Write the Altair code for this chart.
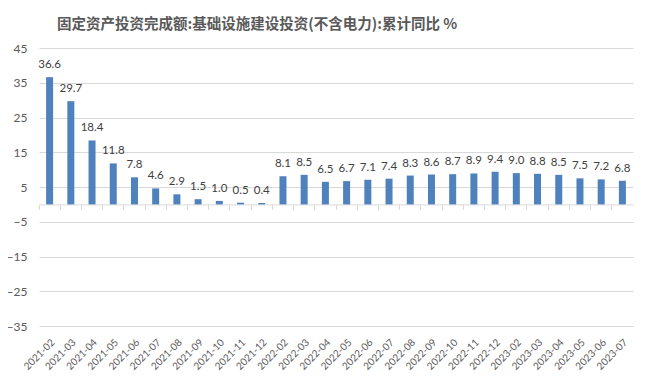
import altair as alt
import pandas as pd

categories = ["2021-02", "2021-03", "2021-04", "2021-05", "2021-06", "2021-07", "2021-08",
              "2021-09", "2021-10", "2021-11", "2021-12", "2022-02", "2022-03", "2022-04",
              "2022-05", "2022-06", "2022-07", "2022-08", "2022-09", "2022-10", "2022-11",
              "2022-12", "2023-02", "2023-03", "2023-04", "2023-05", "2023-06", "2023-07"]
values = [36.6, 29.7, 18.4, 11.8, 7.8, 4.6, 2.9, 1.5, 1.0, 0.5, 0.4,
          8.1, 8.5, 6.5, 6.7, 7.1, 7.4, 8.3, 8.6, 8.7, 8.9, 9.4,
          9.0, 8.8, 8.5, 7.5, 7.2, 6.8]
y_ticks = [45, 35, 25, 15, 5, -5, -15, -25, -35]
y_domain = [-37, 45]
title_text = "固定资产投资完成额:基础设施建设投资(不含电力):累计同比 %"

df = pd.DataFrame({"cat": categories, "val": values})
title_df = pd.DataFrame({"t": [title_text]})

W, H = 594, 285
zero_from_bottom = H * (0 - y_domain[0]) / (y_domain[1] - y_domain[0])

xscale = alt.Scale(paddingInner=0, paddingOuter=0)
yscale = alt.Scale(domain=y_domain, nice=False, zero=False)
grey = "#595959"
line = "#D9D9D9"

base = alt.Chart(df)

yaxis = alt.Axis(values=y_ticks, grid=True, gridColor=line, gridWidth=1,
                 ticks=False, tickSize=0, domain=False, labelFont="Lato",
                 labelFontSize=12, labelColor=grey, labelPadding=12)

zero_axis = base.mark_bar(opacity=0).encode(
    x=alt.X("cat:N", sort=categories, scale=xscale, title=None,
            axis=alt.Axis(labels=False, ticks=True, tickSize=5, tickColor=line,
                          bandPosition=0, domain=True, domainColor=line, grid=False,
                          orient="bottom", offset=-zero_from_bottom)),
    y=alt.Y("val:Q", scale=yscale, title=None, axis=yaxis),
)

bars = base.mark_bar(color="#4F81BD", width={"band": 0.33}).encode(
    x=alt.X("cat:N", sort=categories, scale=xscale, title=None,
            axis=alt.Axis(labelAngle=-45, ticks=False, domain=False, grid=False,
                          labelFont="Lato", labelFontSize=10, labelColor=grey,
                          labelPadding=4, orient="bottom")),
    y=alt.Y("val:Q", scale=yscale, title=None, axis=yaxis),
)

labels = base.mark_text(dy=-7, baseline="bottom", font="Lato", fontSize=11.5,
                        color="#404040").encode(
    x=alt.X("cat:N", sort=categories, scale=xscale, axis=None),
    y=alt.Y("val:Q", scale=yscale, axis=yaxis),
    text=alt.Text("val:Q", format=".1f"),
)

title = alt.Chart(title_df).mark_text(
    align="left", baseline="alphabetic", font="Noto Sans CJK SC", fontSize=14.5,
    fontWeight="bold", color=grey
).encode(x=alt.value(18), y=alt.value(-19), text="t:N")

chart = alt.layer(zero_axis, bars, labels, title).resolve_scale(
    x="independent"
).resolve_axis(x="independent").properties(
    width=W, height=H,
    autosize=alt.AutoSizeParams(type="none"),
    padding={"left": 31, "top": 40, "right": 9, "bottom": 50},
).configure_view(stroke=None)

chart.save("out.html", embed_options={"renderer": "svg", "actions": False})
